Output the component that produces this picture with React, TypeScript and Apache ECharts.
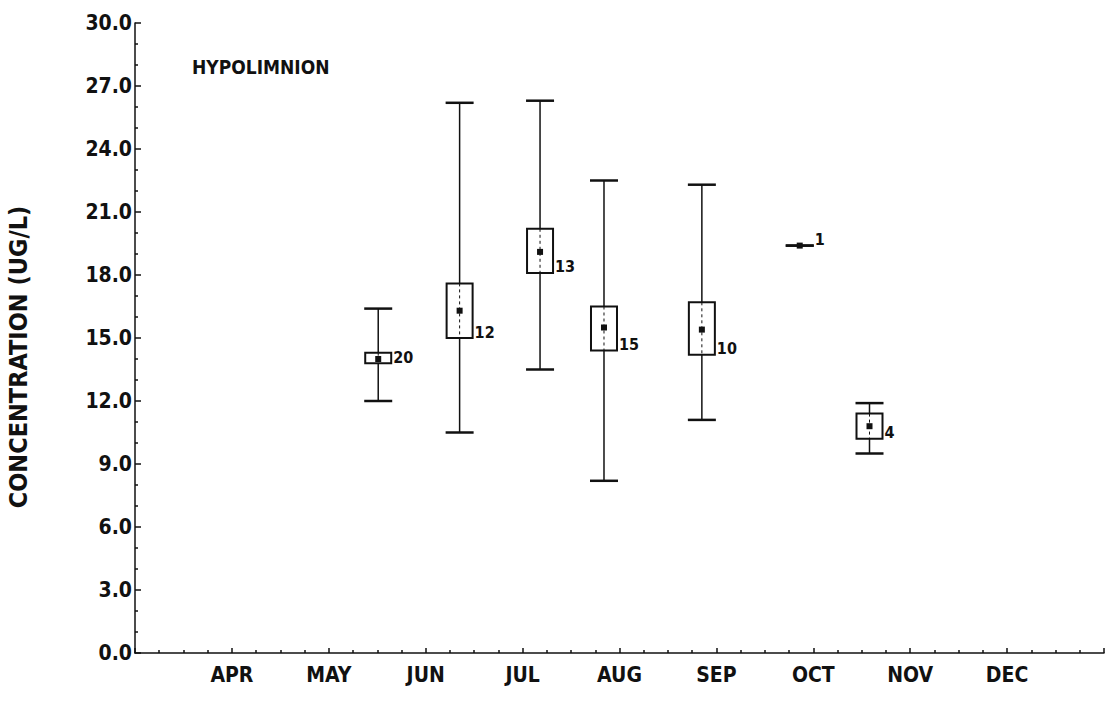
import React, { useEffect, useRef } from "react";
import * as echarts from "echarts";

// Month axis: 3 = MAR ... 13 = JAN
const monthLabels = ["MAR", "APR", "MAY", "JUN", "JUL", "AUG", "SEP", "OCT", "NOV", "DEC", "JAN"];
const hiddenMonthLabels = ["MAR", "JAN"];

// Sampling positions (fractional month) and statistics
const sampleMonth = [5.51, 6.35, 7.18, 7.84, 8.85, 9.86, 10.58];
const rangeLow = [12.0, 10.5, 13.5, 8.2, 11.1, 19.4, 9.5];
const rangeHigh = [16.4, 26.2, 26.3, 22.5, 22.3, 19.4, 11.9];
const boxLow = [13.8, 15.0, 18.1, 14.4, 14.2, 19.4, 10.2];
const boxHigh = [14.3, 17.6, 20.2, 16.5, 16.7, 19.4, 11.4];
const meanValue = [14.0, 16.3, 19.1, 15.5, 15.4, 19.4, 10.8];
const sampleCount = [20, 12, 13, 15, 10, 1, 4];

const yTitle = "CONCENTRATION (UG/L)";
const panelTitle = "HYPOLIMNION";

const FONT = "'Liberation Sans Narrow', 'DejaVu Sans Condensed', 'DejaVu Sans', sans-serif";

export default function App() {
  const ref = useRef<HTMLDivElement>(null);

  useEffect(() => {
    if (!ref.current) return;
    const chart = echarts.init(ref.current, null, { renderer: "svg" });

    const data = sampleMonth.map((m, i) => [
      m,
      rangeLow[i],
      rangeHigh[i],
      boxLow[i],
      boxHigh[i],
      meanValue[i],
      sampleCount[i],
    ]);

    const stroke = "#111";

    const renderItem = (params: any, api: any) => {
      const x = api.value(0);
      const pLow = api.coord([x, api.value(1)]);
      const pHigh = api.coord([x, api.value(2)]);
      const pBL = api.coord([x, api.value(3)]);
      const pBH = api.coord([x, api.value(4)]);
      const pM = api.coord([x, api.value(5)]);
      const n = api.value(6);
      const cx = pLow[0];
      const half = 13;
      const capHalf = 14;
      const children: any[] = [];

      if (pLow[1] - pBL[1] > 0.5) {
        children.push({
          type: "line",
          shape: { x1: cx, y1: pBL[1], x2: cx, y2: pLow[1] },
          style: { stroke, lineWidth: 1.5 },
        });
      }
      if (pBH[1] - pHigh[1] > 0.5) {
        children.push({
          type: "line",
          shape: { x1: cx, y1: pHigh[1], x2: cx, y2: pBH[1] },
          style: { stroke, lineWidth: 1.5 },
        });
      }
      // caps
      children.push({
        type: "line",
        shape: { x1: cx - capHalf, y1: pHigh[1], x2: cx + capHalf, y2: pHigh[1] },
        style: { stroke, lineWidth: 2.5 },
      });
      children.push({
        type: "line",
        shape: { x1: cx - capHalf, y1: pLow[1], x2: cx + capHalf, y2: pLow[1] },
        style: { stroke, lineWidth: 2.5 },
      });
      // box
      if (pBL[1] - pBH[1] > 0.5) {
        children.push({
          type: "rect",
          shape: { x: cx - half, y: pBH[1], width: 2 * half, height: pBL[1] - pBH[1] },
          style: { stroke, lineWidth: 2, fill: "none" },
        });
        children.push({
          type: "line",
          shape: { x1: cx, y1: pBH[1], x2: cx, y2: pBL[1] },
          style: { stroke, lineWidth: 1, lineDash: [3, 3] },
        });
      }
      // mean
      children.push({
        type: "rect",
        shape: { x: cx - 3, y: pM[1] - 3, width: 6, height: 6 },
        style: { fill: stroke },
      });
      // count label
      children.push({
        type: "text",
        x: cx + half + 2,
        y: pBL[1] + 2,
        style: {
          text: String(n),
          fill: stroke,
          font: `bold 16px ${FONT}`,
          align: "left",
          verticalAlign: "bottom",
        },
      });
      return { type: "group", children };
    };

    chart.setOption({
      animation: false,
      backgroundColor: "#ffffff",
      grid: { left: 135, right: 1, top: 23, bottom: 53, containLabel: false },
      xAxis: {
        type: "value",
        min: 3,
        max: 13,
        interval: 1,
        axisLine: { show: true, lineStyle: { color: stroke, width: 1.5 } },
        axisTick: { show: true, inside: true, length: 5, lineStyle: { color: stroke, width: 1.5 } },
        minorTick: { show: true, splitNumber: 4, length: 3, lineStyle: { color: stroke, width: 1.5 } },
        splitLine: { show: false },
        axisLabel: {
          margin: 11,
          color: stroke,
          fontFamily: FONT,
          fontWeight: "bold",
          fontSize: 21,
          showMinLabel: true,
          showMaxLabel: true,
          formatter: (v: number) => {
            const lab = monthLabels[Math.round(v) - 3] || "";
            return hiddenMonthLabels.includes(lab) ? "" : lab;
          },
        },
      },
      yAxis: {
        type: "value",
        min: 0,
        max: 30,
        interval: 3,
        axisLine: { show: true, lineStyle: { color: stroke, width: 1.5 } },
        axisTick: { show: true, inside: true, length: 6, lineStyle: { color: stroke, width: 1.5 } },
        minorTick: { show: true, splitNumber: 3, length: 3, lineStyle: { color: stroke, width: 1.5 } },
        splitLine: { show: false },
        axisLabel: {
          margin: 3,
          color: stroke,
          fontFamily: FONT,
          fontWeight: "bold",
          fontSize: 21,
          formatter: (v: number) => v.toFixed(1),
        },
      },
      graphic: [
        {
          type: "text",
          x: 18,
          y: 357,
          rotation: Math.PI / 2,
          style: {
            text: yTitle,
            fill: stroke,
            font: `bold 25px ${FONT}`,
            align: "center",
            verticalAlign: "middle",
          },
        },
        {
          type: "text",
          x: 192,
          y: 67,
          style: {
            text: panelTitle,
            fill: stroke,
            font: `bold 19px ${FONT}`,
            align: "left",
            verticalAlign: "middle",
          },
        },
      ],
      series: [
        {
          type: "custom",
          renderItem,
          data,
          clip: false,
          encode: { x: 0, y: [1, 2, 3, 4, 5] },
        },
      ],
    });

    return () => chart.dispose();
  }, []);

  return (
    <div
      ref={ref}
      style={{ position: "fixed", left: 0, top: 0, width: 1107, height: 706, background: "#fff" }}
    />
  );
}
